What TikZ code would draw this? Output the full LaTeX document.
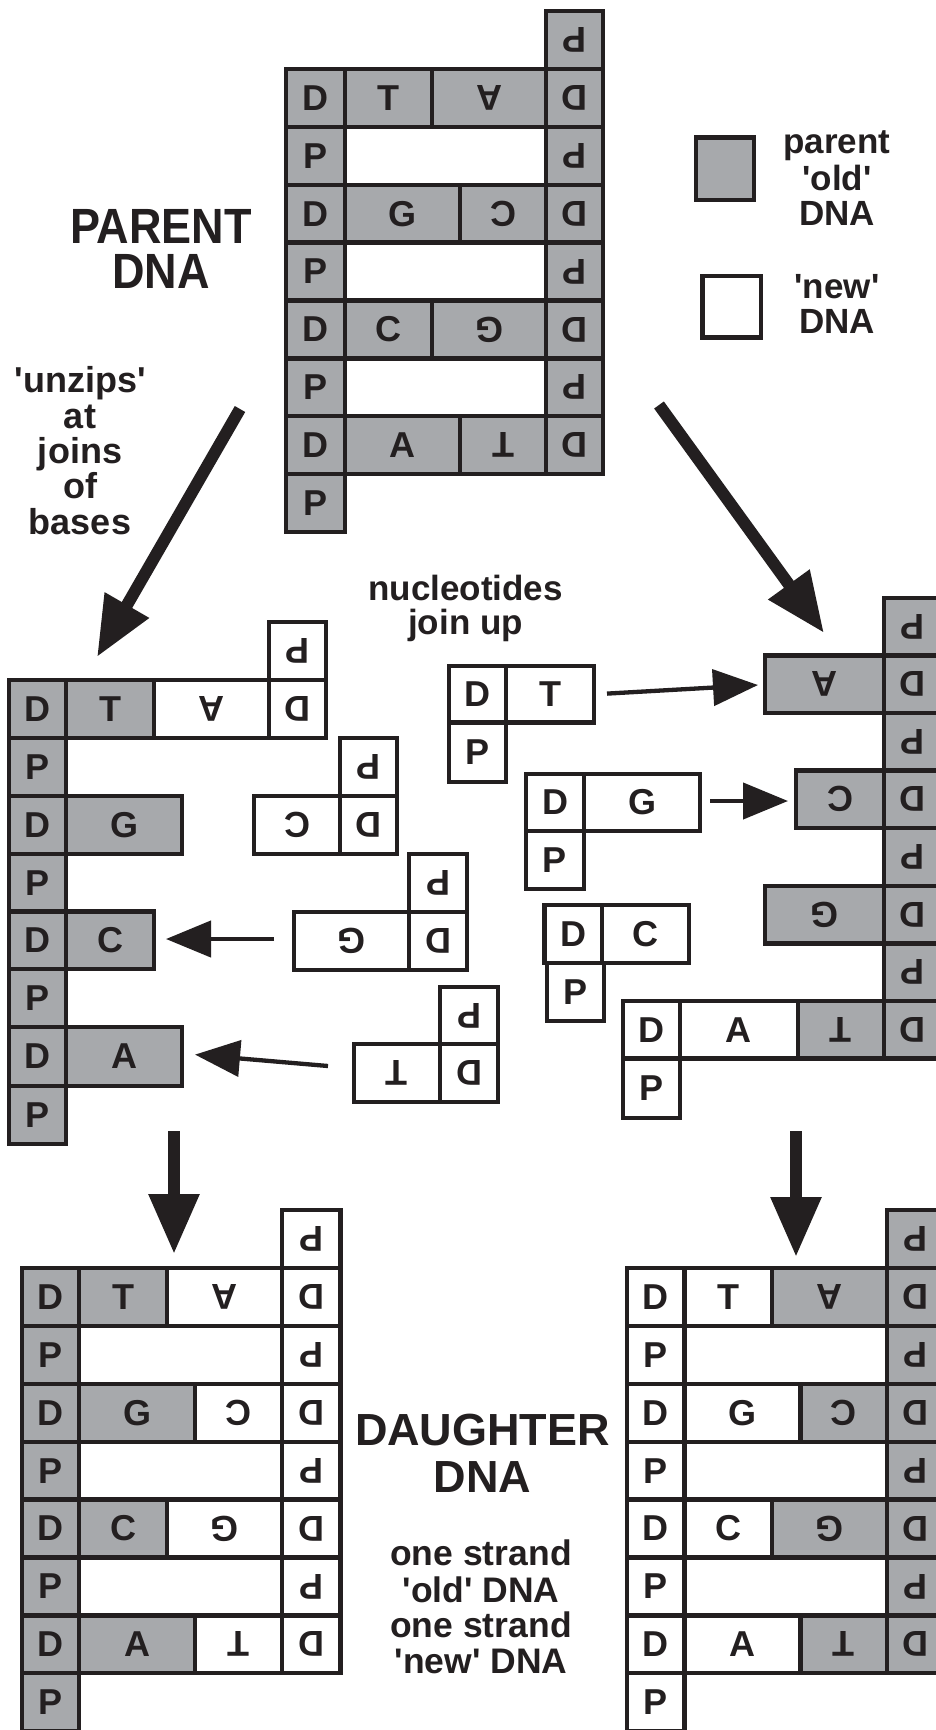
\documentclass[tikz,border=0pt]{standalone}
\usepackage{fontspec}
\setmainfont{Liberation Sans}
\usetikzlibrary{arrows.meta}
\definecolor{oldgrey}{HTML}{A7A9AC}
\definecolor{ink}{HTML}{231F20}
\newcommand\bx[7]{\node[#6, minimum width={(#4-#2)*1pt}, minimum height={(#5-#3)*1pt}] (#1) at ({(#2+#4)/2},{(#3+#5)/2}) {#7};}
\newcommand\q{\textquotesingle}
\begin{document}
\begin{tikzpicture}[x=1pt,y=-1pt,
  cellb/.style={draw=ink, line width=4.3pt, inner sep=0pt, text=ink, font=\fontsize{36}{36}\selectfont\bfseries},
  old/.style={cellb, fill=oldgrey},
  new/.style={cellb, fill=white},
  flip/.style={rotate=180},
  bigarrow/.style={draw=ink, line width=12pt, -{Triangle[length=60pt,width=48pt]}},
  smallarrow/.style={draw=ink, line width=4.3pt, -{Triangle[length=45pt,width=36pt]}},
  lbl/.style={anchor=base, text=ink, inner sep=0pt, font=\fontsize{35}{35}\selectfont\bfseries},
  ttl/.style={anchor=base, text=ink, inner sep=0pt, font=\fontsize{45}{45}\selectfont\bfseries},
]
\useasboundingbox (0,0) rectangle (936,1730);
\fill[white] (0,0) rectangle (936,1730);
\clip (0,0) rectangle (936,1730);

% ---------- PARENT DNA ----------
\bx{pR0}{546}{11}{603}{68.9}{old,flip}{P}
\bx{pR1}{546}{68.9}{603}{126.8}{old,flip}{D}
\bx{pR2}{546}{126.8}{603}{184.7}{old,flip}{P}
\bx{pR3}{546}{184.7}{603}{242.6}{old,flip}{D}
\bx{pR4}{546}{242.6}{603}{300.5}{old,flip}{P}
\bx{pR5}{546}{300.5}{603}{358.4}{old,flip}{D}
\bx{pR6}{546}{358.4}{603}{416.3}{old,flip}{P}
\bx{pR7}{546}{416.3}{603}{474.2}{old,flip}{D}
\bx{pL1}{286}{68.9}{345}{126.8}{old}{D}
\bx{pL2}{286}{126.8}{345}{184.7}{old}{P}
\bx{pL3}{286}{184.7}{345}{242.6}{old}{D}
\bx{pL4}{286}{242.6}{345}{300.5}{old}{P}
\bx{pL5}{286}{300.5}{345}{358.4}{old}{D}
\bx{pL6}{286}{358.4}{345}{416.3}{old}{P}
\bx{pL7}{286}{416.3}{345}{474.2}{old}{D}
\bx{pL8}{286}{474.2}{345}{532.1}{old}{P}
\bx{pT1}{345}{68.9}{432}{126.8}{old}{T}
\bx{pA1}{432}{68.9}{546}{126.8}{old,flip}{A}
\bx{pG3}{345}{184.7}{460}{242.6}{old}{G}
\bx{pC3}{460}{184.7}{546}{242.6}{old,flip}{C}
\bx{pC5}{345}{300.5}{432}{358.4}{old}{C}
\bx{pG5}{432}{300.5}{546}{358.4}{old,flip}{G}
\bx{pA7}{345}{416.3}{460}{474.2}{old}{A}
\bx{pT7}{460}{416.3}{546}{474.2}{old,flip}{T}

% ---------- legend ----------
\bx{legold}{696}{137.5}{754}{200}{old}{}
\bx{legnew}{702.5}{276}{761}{337.5}{new}{}
\node[lbl] (lg1) at (837,153) {parent};
\node[lbl] (lg2) at (837,190) {\q old\q};
\node[lbl] (lg3) at (837,225) {DNA};
\node[lbl] (lg4) at (837,298) {\q new\q};
\node[lbl] (lg5) at (837,333) {DNA};

% ---------- titles / labels ----------
\node[ttl] (par1) at (161,243) {\scalebox{1}[1.1]{PARENT}};
\node[ttl] (par2) at (161,288) {\scalebox{1}[1.1]{DNA}};
\node[lbl,font=\fontsize{36}{36}\selectfont\bfseries] (uz1) at (80,392.7) {\q unzips\q};
\node[lbl,font=\fontsize{36}{36}\selectfont\bfseries] (uz2) at (80,428) {at};
\node[lbl,font=\fontsize{36}{36}\selectfont\bfseries] (uz3) at (80,463.3) {joins};
\node[lbl,font=\fontsize{36}{36}\selectfont\bfseries] (uz4) at (80,498.6) {of};
\node[lbl,font=\fontsize{36}{36}\selectfont\bfseries] (uz5) at (80,534) {bases};
\node[lbl] (nj1) at (465.5,600.7) {nucleotides};
\node[lbl] (nj2) at (465.5,634) {join up};
\node[ttl] (dt1) at (482.5,1445) {DAUGHTER};
\node[ttl] (dt2) at (482.5,1492) {DNA};
\node[lbl,font=\fontsize{35.5}{35.5}\selectfont\bfseries] (os1) at (481,1565) {one strand};
\node[lbl,font=\fontsize{35.5}{35.5}\selectfont\bfseries] (os2) at (481,1602) {\q old\q{} DNA};
\node[lbl,font=\fontsize{35.5}{35.5}\selectfont\bfseries] (os3) at (481,1637) {one strand};
\node[lbl,font=\fontsize{35.5}{35.5}\selectfont\bfseries] (os4) at (481,1673) {\q new\q{} DNA};

% ---------- big arrows ----------
\coordinate (bl1) at (240,409);
\coordinate (bl2) at (97,657);
\coordinate (br1) at (659,405);
\coordinate (br2) at (824,633);
\coordinate (dl1) at (174,1131);
\coordinate (dl2) at (174,1254);
\coordinate (dr1) at (796,1131);
\coordinate (dr2) at (796,1257);
\draw[bigarrow] (bl1) -- (bl2);
\draw[bigarrow] (br1) -- (br2);
\draw[bigarrow] (dl1) -- (dl2);
\draw[bigarrow] (dr1) -- (dr2);

% ---------- LEFT HALF (old left strand) ----------
\bx{lL1}{9.3}{680}{66.3}{738}{old}{D}
\bx{lL2}{9.3}{738}{66.3}{796}{old}{P}
\bx{lL3}{9.3}{796}{66.3}{854}{old}{D}
\bx{lL4}{9.3}{854}{66.3}{911.5}{old}{P}
\bx{lL5}{9.3}{911.5}{66.3}{969}{old}{D}
\bx{lL6}{9.3}{969}{66.3}{1027}{old}{P}
\bx{lL7}{9.3}{1027}{66.3}{1086}{old}{D}
\bx{lL8}{9.3}{1086}{66.3}{1144}{old}{P}
\bx{lT1}{66.3}{680}{154}{738}{old}{T}
\bx{lA1}{154}{680}{269}{738}{new,flip}{A}
\bx{lD1}{269}{680}{326}{738}{new,flip}{D}
\bx{lP1}{269}{622}{326}{680}{new,flip}{P}
\bx{lG3}{66.3}{796}{182}{854}{old}{G}
\bx{lC5}{66.3}{911.5}{154}{969}{old}{C}
\bx{lA7}{66.3}{1027}{182}{1086}{old}{A}
% free nucleotides (left)
\bx{fC}{254}{796}{340}{854}{new,flip}{C}
\bx{fCD}{340}{796}{397}{854}{new,flip}{D}
\bx{fCP}{340}{738}{397}{796}{new,flip}{P}
\bx{fG}{294}{912}{409}{970}{new,flip}{G}
\bx{fGD}{409}{912}{467}{970}{new,flip}{D}
\bx{fGP}{409}{854}{467}{912}{new,flip}{P}
\bx{fT}{354}{1044}{440}{1102}{new,flip}{T}
\bx{fTD}{440}{1044}{498}{1102}{new,flip}{D}
\bx{fTP}{440}{987}{498}{1044}{new,flip}{P}
\coordinate (sa1) at (274,939);
\coordinate (sa2) at (166,939);
\coordinate (sb1) at (328,1066);
\coordinate (sb2) at (195,1054.6);
\draw[smallarrow] (sa1) -- (sa2);
\draw[smallarrow] (sb1) -- (sb2);

% ---------- free nucleotides (middle) ----------
\bx{mTD}{449}{666}{506}{722.5}{new}{D}
\bx{mT}{506}{666}{594}{722.5}{new}{T}
\bx{mTP}{449}{722.5}{506}{782}{new}{P}
\bx{mGD}{526}{774}{584}{831}{new}{D}
\bx{mG}{584}{774}{700}{831}{new}{G}
\bx{mGP}{526}{831}{584}{889}{new}{P}
\bx{mCD}{544.5}{905}{602}{963}{new}{D}
\bx{mC}{602}{905}{689}{963}{new}{C}
\bx{mCP}{547}{963}{604}{1021}{new}{P}
\coordinate (sc1) at (607,693.6);
\coordinate (sc2) at (758,685);
\coordinate (sd1) at (710,801);
\coordinate (sd2) at (788,801);
\draw[smallarrow] (sc1) -- (sc2);
\draw[smallarrow] (sd1) -- (sd2);

% ---------- RIGHT HALF (old right strand) ----------
\bx{rR0}{884}{598}{941}{655.5}{old,flip}{P}
\bx{rR1}{884}{655.5}{941}{713}{old,flip}{D}
\bx{rR2}{884}{713}{941}{770.5}{old,flip}{P}
\bx{rR3}{884}{770.5}{941}{828}{old,flip}{D}
\bx{rR4}{884}{828}{941}{886}{old,flip}{P}
\bx{rR5}{884}{886}{941}{943.5}{old,flip}{D}
\bx{rR6}{884}{943.5}{941}{1001}{old,flip}{P}
\bx{rR7}{884}{1001}{941}{1058.6}{old,flip}{D}
\bx{rA1}{765}{655.5}{884}{713}{old,flip}{A}
\bx{rC3}{796}{770.5}{884}{828}{old,flip}{C}
\bx{rG5}{765}{886}{884}{943.5}{old,flip}{G}
\bx{rT7}{797.7}{1001}{884}{1058.6}{old,flip}{T}
\bx{rD7}{623}{1001}{680}{1058.6}{new}{D}
\bx{rA7}{680}{1001}{797.7}{1058.6}{new}{A}
\bx{rP7}{623}{1058.6}{680}{1118}{new}{P}

% ---------- DAUGHTER left ----------
\bx{aL1}{22}{1268}{79}{1325.9}{old}{D}
\bx{aL2}{22}{1325.9}{79}{1383.8}{old}{P}
\bx{aL3}{22}{1383.8}{79}{1441.7}{old}{D}
\bx{aL4}{22}{1441.7}{79}{1499.6}{old}{P}
\bx{aL5}{22}{1499.6}{79}{1557.5}{old}{D}
\bx{aL6}{22}{1557.5}{79}{1615.4}{old}{P}
\bx{aL7}{22}{1615.4}{79}{1673.3}{old}{D}
\bx{aL8}{22}{1673.3}{79}{1731.2}{old}{P}
\bx{aR0}{282}{1210.1}{340.5}{1268}{new,flip}{P}
\bx{aR1}{282}{1268}{340.5}{1325.9}{new,flip}{D}
\bx{aR2}{282}{1325.9}{340.5}{1383.8}{new,flip}{P}
\bx{aR3}{282}{1383.8}{340.5}{1441.7}{new,flip}{D}
\bx{aR4}{282}{1441.7}{340.5}{1499.6}{new,flip}{P}
\bx{aR5}{282}{1499.6}{340.5}{1557.5}{new,flip}{D}
\bx{aR6}{282}{1557.5}{340.5}{1615.4}{new,flip}{P}
\bx{aR7}{282}{1615.4}{340.5}{1673.3}{new,flip}{D}
\bx{aT1}{79}{1268}{167}{1325.9}{old}{T}
\bx{aA1}{167}{1268}{282}{1325.9}{new,flip}{A}
\bx{aG3}{79}{1383.8}{195}{1441.7}{old}{G}
\bx{aC3}{195}{1383.8}{282}{1441.7}{new,flip}{C}
\bx{aC5}{79}{1499.6}{167}{1557.5}{old}{C}
\bx{aG5}{167}{1499.6}{282}{1557.5}{new,flip}{G}
\bx{aA7}{79}{1615.4}{195}{1673.3}{old}{A}
\bx{aT7}{195}{1615.4}{282}{1673.3}{new,flip}{T}

% ---------- DAUGHTER right ----------
\bx{bL1}{627}{1268}{684.5}{1325.9}{new}{D}
\bx{bL2}{627}{1325.9}{684.5}{1383.8}{new}{P}
\bx{bL3}{627}{1383.8}{684.5}{1441.7}{new}{D}
\bx{bL4}{627}{1441.7}{684.5}{1499.6}{new}{P}
\bx{bL5}{627}{1499.6}{684.5}{1557.5}{new}{D}
\bx{bL6}{627}{1557.5}{684.5}{1615.4}{new}{P}
\bx{bL7}{627}{1615.4}{684.5}{1673.3}{new}{D}
\bx{bL8}{627}{1673.3}{684.5}{1731.2}{new}{P}
\bx{bR0}{887}{1210.1}{944}{1268}{old,flip}{P}
\bx{bR1}{887}{1268}{944}{1325.9}{old,flip}{D}
\bx{bR2}{887}{1325.9}{944}{1383.8}{old,flip}{P}
\bx{bR3}{887}{1383.8}{944}{1441.7}{old,flip}{D}
\bx{bR4}{887}{1441.7}{944}{1499.6}{old,flip}{P}
\bx{bR5}{887}{1499.6}{944}{1557.5}{old,flip}{D}
\bx{bR6}{887}{1557.5}{944}{1615.4}{old,flip}{P}
\bx{bR7}{887}{1615.4}{944}{1673.3}{old,flip}{D}
\bx{bT1}{684.5}{1268}{772}{1325.9}{new}{T}
\bx{bA1}{772}{1268}{887}{1325.9}{old,flip}{A}
\bx{bG3}{684.5}{1383.8}{800.5}{1441.7}{new}{G}
\bx{bC3}{800.5}{1383.8}{887}{1441.7}{old,flip}{C}
\bx{bC5}{684.5}{1499.6}{772}{1557.5}{new}{C}
\bx{bG5}{772}{1499.6}{887}{1557.5}{old,flip}{G}
\bx{bA7}{684.5}{1615.4}{800.5}{1673.3}{new}{A}
\bx{bT7}{800.5}{1615.4}{887}{1673.3}{old,flip}{T}
\end{tikzpicture}
\end{document}
